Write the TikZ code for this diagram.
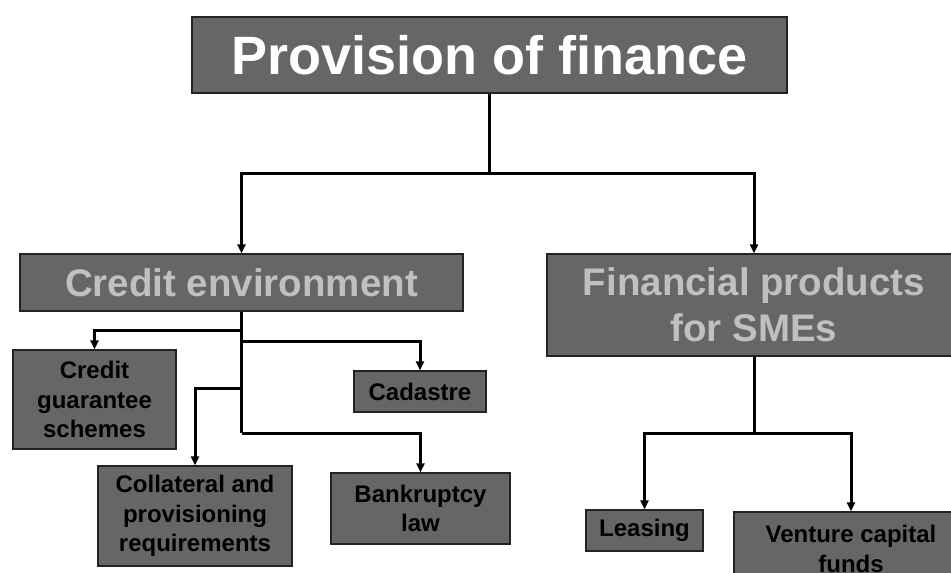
\documentclass[tikz,border=0pt]{standalone}
\usepackage{fontspec}
\setmainfont{Liberation Sans}
\usepackage{xcolor}
\usepackage{tikz}
\usetikzlibrary{arrows.meta}
\definecolor{boxgray}{RGB}{102,102,102}
\definecolor{boxedge}{RGB}{35,35,35}
\definecolor{headtext}{RGB}{192,192,192}

\begin{document}
\begin{tikzpicture}[x=1pt, y=-1pt, every node/.style={inner sep=0pt},
  box/.style={draw=boxedge, line width=1.2pt, fill=boxgray, align=center, font=\bfseries},
  topbox/.style={box, text=white, font=\fontsize{54}{60}\selectfont\bfseries},
  midbox/.style={box, text=headtext, font=\fontsize{38.5}{46}\selectfont\bfseries},
  leaf/.style={box, text=black, font=\fontsize{24}{29.5}\selectfont\bfseries},
  link/.style={line width=3pt, black},
  arr/.style={link, -{Triangle[length=9pt, width=8pt]}}]
\useasboundingbox (0,0) rectangle (951,573);
\clip (0,0) rectangle (951,573);

% top and second level
\node[topbox, minimum width=595pt, minimum height=76pt] (prov) at (489.5,55) {Provision of finance};
\node[midbox, minimum width=443pt, minimum height=57pt] (credit) at (241.5,282.5) {Credit environment};
\node[midbox, minimum width=414pt, minimum height=102pt] (fin) at (754,305) {Financial products\\for SMEs};

% credit environment leaves
\node[leaf, minimum width=163pt, minimum height=99pt] (cgs) at (94.5,399.5) {Credit\\guarantee\\schemes};
\node[leaf, minimum width=132pt, minimum height=41pt] (cad) at (420,391.5) {Cadastre};
\node[leaf, minimum width=194pt, minimum height=100pt] (coll) at (195,516) {Collateral and\\provisioning\\requirements};
\node[leaf, minimum width=179pt, minimum height=71pt] (bank) at (420.5,508.5) {Bankruptcy\\law};

% financial products leaves
\node[leaf, minimum width=117pt, minimum height=41pt] (leas) at (644.5,530.5) {Leasing};
\node[leaf, minimum width=234pt, minimum height=74pt] (vc) at (851,549) {Venture capital\\funds};

% connectors
\coordinate (tj) at (489.5,173);
\draw[link] (prov.south) -- (tj);
\draw[arr] (tj) -| (credit.north);
\draw[arr] (tj) -| (fin.north);

\coordinate (c1) at (241.5,330);
\coordinate (c2) at (241.5,341);
\coordinate (c3) at (241.5,388);
\coordinate (c4) at (241.5,433);
\draw[link] (credit.south) -- (c4);
\draw[arr] (c1) -| (cgs.north);
\draw[arr] (c2) -| (cad.north);
\draw[arr] (c3) -| (coll.north);
\draw[arr] (c4) -| (bank.north);

\coordinate (f1) at (754,433);
\draw[link] (fin.south) -- (f1);
\draw[arr] (f1) -| (leas.north);
\draw[arr] (f1) -| (vc.north);
\end{tikzpicture}
\end{document}
